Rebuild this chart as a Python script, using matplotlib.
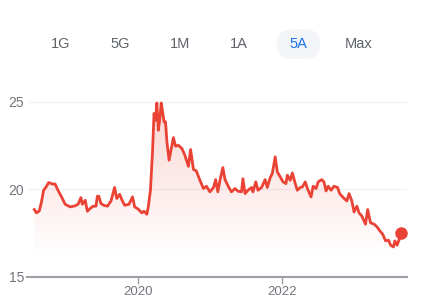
import numpy as np
import matplotlib
matplotlib.use('Agg')
import matplotlib.pyplot as plt
from matplotlib.patches import FancyBboxPatch, Polygon

# decimal years and prices
dates = [2018.55, 2018.58, 2018.62, 2018.65, 2018.68, 2018.72, 2018.75, 2018.81, 2018.84, 2018.88,
         2018.93, 2018.98, 2019.05, 2019.12, 2019.16, 2019.20, 2019.22, 2019.26, 2019.29, 2019.33,
         2019.37, 2019.41, 2019.43, 2019.45, 2019.48, 2019.52, 2019.57, 2019.62, 2019.67, 2019.70,
         2019.74, 2019.77, 2019.81, 2019.87, 2019.92, 2019.95, 2020.00, 2020.05, 2020.08, 2020.12,
         2020.14, 2020.17, 2020.20, 2020.22, 2020.24, 2020.26, 2020.28, 2020.30, 2020.32, 2020.34,
         2020.36, 2020.38, 2020.40, 2020.43, 2020.47, 2020.49, 2020.52, 2020.56, 2020.61, 2020.65,
         2020.70, 2020.73, 2020.77, 2020.81, 2020.86, 2020.91, 2020.95, 2021.00, 2021.05, 2021.08,
         2021.11, 2021.14, 2021.18, 2021.21, 2021.26, 2021.30, 2021.35, 2021.39, 2021.44, 2021.46,
         2021.49, 2021.53, 2021.58, 2021.60, 2021.64, 2021.67, 2021.72, 2021.77, 2021.80, 2021.84,
         2021.87, 2021.91, 2021.94, 2021.98, 2022.02, 2022.06, 2022.08, 2022.12, 2022.15, 2022.19,
         2022.22, 2022.26, 2022.29, 2022.33, 2022.36, 2022.41, 2022.44, 2022.48, 2022.51, 2022.56,
         2022.59, 2022.62, 2022.65, 2022.69, 2022.73, 2022.78, 2022.81, 2022.86, 2022.91, 2022.94,
         2022.98, 2023.01, 2023.05, 2023.08, 2023.12, 2023.17, 2023.20, 2023.24, 2023.29, 2023.33,
         2023.37, 2023.41, 2023.45, 2023.49, 2023.52, 2023.56, 2023.58, 2023.61, 2023.64, 2023.66]
prices = [18.84, 18.65, 18.76, 19.27, 19.94, 20.17, 20.38, 20.29, 20.30, 19.94,
          19.56, 19.14, 18.99, 19.05, 19.14, 19.52, 19.14, 19.37, 18.74, 18.90,
          19.03, 19.03, 19.60, 19.60, 19.18, 19.08, 19.03, 19.33, 20.10, 19.47,
          19.71, 19.41, 19.08, 19.14, 19.56, 18.99, 18.86, 18.65, 18.74, 18.57,
          19.00, 19.94, 22.23, 24.33, 23.94, 24.93, 23.37, 23.98, 24.93, 24.42,
          23.85, 23.85, 22.70, 21.66, 22.51, 22.95, 22.46, 22.51, 22.32, 21.94,
          21.31, 22.27, 21.13, 21.05, 20.51, 20.04, 20.17, 19.85, 20.10, 20.55,
          19.85, 20.51, 21.24, 20.55, 20.13, 19.85, 20.04, 19.89, 19.85, 20.60,
          19.75, 19.94, 20.10, 19.85, 20.42, 19.94, 20.10, 20.55, 20.10, 20.65,
          20.90, 21.85, 20.99, 20.70, 20.42, 20.32, 20.80, 20.51, 20.93, 20.32,
          19.94, 20.10, 20.13, 20.42, 20.04, 19.56, 20.17, 20.04, 20.42, 20.55,
          20.42, 19.90, 20.17, 19.94, 20.17, 20.10, 19.75, 19.52, 19.33, 19.75,
          19.33, 18.70, 19.03, 18.65, 18.46, 18.00, 18.84, 18.08, 18.00, 17.85,
          17.62, 17.43, 17.05, 17.09, 16.80, 16.70, 17.05, 16.80, 17.13, 17.47]

yticks = [15, 20, 25]
xticks = [2020, 2022]
ranges = ['1G', '5G', '1M', '1A', '5A', 'Max']
active = '5A'

red = '#ea4335'
grey_txt = '#70757a'
font = 'Liberation Sans'

fig = plt.figure(figsize=(4.22, 3.0), dpi=100)
ax = fig.add_axes([0.0633, 0.0777, 0.901, 0.6123])

ax.set_xlim(2018.444, 2023.748)
ax.set_ylim(15, 25.5)

# gridlines
for v in yticks[1:]:
    ax.axhline(v, color='#f1f3f4', lw=1, zorder=0)

# gradient fill under the line
grad = np.linspace(0, 1, 256).reshape(-1, 1)
cmap = matplotlib.colors.LinearSegmentedColormap.from_list(
    'fade', [(234/255, 67/255, 53/255, 0.0), (234/255, 67/255, 53/255, 0.22)])
im = ax.imshow(grad, extent=[dates[0], dates[-1], 16.0, 25.0], origin='lower',
               aspect='auto', cmap=cmap, zorder=1)
poly = Polygon(list(zip(dates, prices)) + [(dates[-1], 15), (dates[0], 15)],
               closed=True, transform=ax.transData, facecolor='none', edgecolor='none')
ax.add_patch(poly)
im.set_clip_path(poly)

ax.plot(dates, prices, color=red, lw=2.0, zorder=3, solid_joinstyle='round')
ax.plot(dates[-1], prices[-1], 'o', color=red, ms=8, zorder=4)

for s in ['top', 'right', 'left']:
    ax.spines[s].set_visible(False)
ax.spines['bottom'].set_color('#9aa0a6')
ax.spines['bottom'].set_linewidth(1.5)

ax.set_yticks(yticks)
ax.set_yticklabels([str(v) for v in yticks])
ax.set_xticks(xticks)
ax.set_xticklabels([str(v) for v in xticks])
ax.tick_params(axis='y', length=0, pad=2, labelsize=10, labelcolor=grey_txt)
ax.tick_params(axis='x', length=5, width=1, color='#9aa0a6', pad=2,
               labelsize=9.5, labelcolor=grey_txt)
for lab in ax.get_xticklabels() + ax.get_yticklabels():
    lab.set_fontfamily(font)

# range selector
xs = [60.5, 120, 180, 239.3, 298.3, 358.3]
for name, xp in zip(ranges, xs):
    if name == active:
        pill = FancyBboxPatch((xp / 100 - 0.215, 2.41), 0.43, 0.297,
                              boxstyle='round,pad=0,rounding_size=0.148',
                              transform=fig.dpi_scale_trans,
                              facecolor='#f3f5f9', edgecolor='none')
        fig.patches.append(pill)
    fig.text(xp / 422, 0.853, name, ha='center', va='center', fontsize=10.5,
             family=font, color='#1a73e8' if name == active else '#5f6368')

fig.savefig('out.png', dpi=100)
